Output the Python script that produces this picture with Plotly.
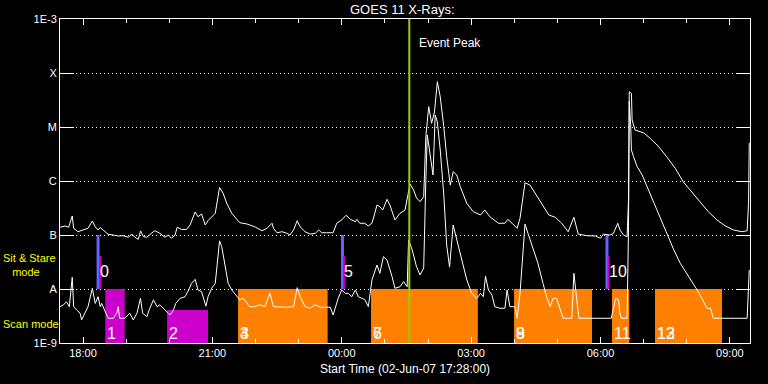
import plotly.graph_objects as go

# ---------------- data ----------------
long_time = ["17:28","17:35","17:40","17:45","17:47","17:53","18:00","18:07","18:13","18:17","18:21","18:24",
             "18:28","18:35","18:42","18:49","18:56","19:03","19:08","19:12","19:17","19:20","19:24","19:29",
             "19:36","19:40","19:47","19:54","19:59","20:03","20:08","20:11","20:17","20:24","20:29","20:36",
             "20:40","20:45","20:50","20:54","21:04","21:10","21:15","21:20","21:27","21:34","21:38","21:48",
             "21:59","22:09","22:16","22:23","22:25","22:30","22:37","22:44","22:48","22:53","22:58","23:02",
             "23:09","23:16","23:23","23:28","23:32","23:39","23:48","23:53","00:00","00:06","00:12","00:19",
             "00:21","00:25","00:32","00:37","00:42","00:46","00:49","00:53","00:57","01:03","01:07","01:14",
             "01:21","01:28","01:31","01:35","01:40","01:44","01:49","01:54","01:57","02:01","02:05","02:09",
             "02:13","02:17","02:22","02:26","02:31","02:35","02:40","02:45","02:54","03:03","03:13","03:19",
             "03:26","03:38","03:47","03:51","03:57","04:04","04:08","04:15","04:22","04:29","04:38","04:48",
             "04:57","05:06","05:15","05:23","05:29","05:41","05:53","06:00","06:04","06:13","06:18","06:24",
             "06:27","06:32","06:37","06:39","06:40","06:43","06:44","06:48","06:55","07:00","07:09","07:21",
             "07:32","07:44","07:55","08:07","08:19","08:30","08:42","08:53","09:05","09:17","09:24","09:26",
             "09:27"]
long_flux = [1.39e-7,1.47e-7,1.39e-7,2.25e-7,1.33e-7,1.15e-7,1.24e-7,1.33e-7,1.82e-7,1.42e-7,1.24e-7,1.37e-7,
             1.24e-7,1.03e-7,1.00e-7,9.6e-8,9.7e-8,9.1e-8,1.04e-7,9.1e-8,8.3e-8,1.19e-7,9.3e-8,9.1e-8,
             1.10e-7,1.20e-7,1.07e-7,9.1e-8,1.00e-7,8.7e-8,9.9e-8,1.39e-7,1.27e-7,1.27e-7,1.53e-7,2.67e-7,
             2.18e-7,2.45e-7,1.53e-7,1.84e-7,2.52e-7,7.6e-7,5.9e-7,3.86e-7,2.52e-7,1.90e-7,1.69e-7,1.60e-7,
             1.42e-7,1.20e-7,1.33e-7,1.65e-7,1.33e-7,1.10e-7,1.15e-7,1.07e-7,1.00e-7,1.24e-7,1.84e-7,1.42e-7,
             1.15e-7,1.04e-7,1.07e-7,1.24e-7,1.10e-7,1.10e-7,1.10e-7,1.65e-7,1.90e-7,2.32e-7,1.95e-7,1.76e-7,
             1.95e-7,1.65e-7,1.65e-7,1.47e-7,1.65e-7,2.52e-7,3.59e-7,3.34e-7,2.90e-7,4.58e-7,3.59e-7,1.90e-7,
             2.52e-7,2.90e-7,4.45e-7,8.8e-7,6.8e-7,4.84e-7,4.14e-7,5.12e-7,6.6e-6,2.38e-5,1.17e-5,1.90e-5,
             6.9e-5,3.64e-5,1.01e-5,2.82e-6,8.4e-7,1.49e-6,1.29e-6,7.8e-7,3.86e-7,2.70e-7,2.35e-7,2.90e-7,
             2.18e-7,1.65e-7,1.65e-7,1.95e-7,1.65e-7,1.33e-7,2.04e-7,9.3e-7,8.4e-7,5.9e-7,3.86e-7,2.35e-7,
             2.13e-7,1.65e-7,1.15e-7,2.13e-7,1.04e-7,9.7e-8,9.6e-8,8.7e-8,1.04e-7,1.00e-7,1.07e-7,1.65e-7,
             1.24e-7,1.00e-7,9.3e-8,4.45e-7,4.5e-5,4.2e-5,1.35e-5,8.8e-6,8.2e-6,7.8e-6,6.2e-6,4.3e-6,
             2.82e-6,1.72e-6,9.7e-7,6.3e-7,4.14e-7,2.70e-7,1.90e-7,1.49e-7,1.24e-7,1.15e-7,1.20e-7,3.86e-7,
             5.1e-6]

short_time = ["17:28","17:33","17:37","17:41","17:45","17:47","17:51","17:56","17:58","18:03","18:07","18:13",
              "18:17","18:21","18:24","18:26","18:28","18:33","18:35","18:42","18:47","18:49","18:51","18:58",
              "19:05","19:10","19:15","19:20","19:23","19:29","19:32","19:38","19:43","19:47","19:52","19:56",
              "20:01","20:06","20:09","20:15","20:22","20:27","20:31","20:36","20:40","20:45","20:51","20:54",
              "20:59","21:04","21:10","21:13","21:18","21:22","21:27","21:34","21:38","21:43","21:48","21:52",
              "21:59","22:06","22:13","22:20","22:25","22:34","22:44","22:53","22:58","23:02","23:09","23:16",
              "23:23","23:30","23:39","23:44","23:48","23:51","23:55","00:00","00:05","00:09","00:14","00:19",
              "00:23","00:28","00:32","00:37","00:42","00:49","00:53","00:58","01:03","01:10","01:14","01:21",
              "01:26","01:31","01:33","01:38","01:44","01:49","01:54","01:57","01:59","02:02","02:07","02:10",
              "02:13","02:17","02:22","02:26","02:30","02:35","02:40","02:47","02:54","03:01","03:08","03:13",
              "03:17","03:20","03:24","03:29","03:33","03:40","03:47","03:50","03:54","04:01","04:04","04:08",
              "04:12","04:15","04:19","04:26","04:33","04:40","04:45","04:50","04:54","04:59","05:03","05:08",
              "05:20","05:23","05:27","05:30","06:15","06:19","06:21","06:25","06:27","06:29","06:37","06:39",
              "06:40","06:42","06:43","06:46","06:51","06:58","07:05","07:14","07:23","07:32","07:42","07:51",
              "08:00","08:09","08:16","08:21","08:28","08:33","08:37","09:24","09:26","09:27"]
short_flux = [4.7e-9,5.1e-9,5.8e-9,4.7e-9,1.65e-8,4.7e-9,4.1e-9,3.55e-9,2.67e-9,3.55e-9,4.7e-9,1.03e-8,
              5.4e-9,7.2e-9,4.7e-9,5.4e-9,4.7e-9,3.55e-9,2.87e-9,2.87e-9,3.55e-9,4.7e-9,2.87e-9,2.87e-9,
              3.55e-9,2.67e-9,3.55e-9,6.7e-9,3.55e-9,3.07e-9,4.1e-9,6.3e-9,4.7e-9,5.1e-9,4.4e-9,3.8e-9,
              3.3e-9,4.1e-9,5.4e-9,6.7e-9,7.2e-9,9.6e-9,1.27e-8,1.51e-8,9.6e-9,8.9e-9,4.8e-9,7.2e-9,
              1.03e-8,1.27e-8,7.8e-8,6.1e-8,2.59e-8,1.27e-8,9.6e-9,7.2e-9,6.3e-9,6.7e-9,5.4e-9,4.7e-9,
              4.7e-9,5.1e-9,4.7e-9,8.3e-9,4.7e-9,4.6e-9,4.6e-9,4.7e-9,1.06e-8,7.2e-9,4.7e-9,4.4e-9,
              5.1e-9,4.6e-9,4.6e-9,4.6e-9,3.3e-9,4.4e-9,6.7e-9,9.6e-9,8.3e-9,8.3e-9,7.2e-9,9.6e-9,
              7.2e-9,6.7e-9,6.4e-9,4.7e-9,1.47e-8,2.78e-8,1.95e-8,3.97e-8,3.44e-8,1.69e-8,1.03e-8,1.10e-8,
              1.37e-8,1.10e-8,8.1e-8,5.3e-8,2.59e-8,1.82e-8,2.45e-8,1.04e-6,7.1e-6,3.75e-6,1.29e-6,1.67e-5,
              1.24e-5,3.75e-6,5.5e-7,6.5e-8,2.55e-8,1.53e-7,8.1e-8,3.44e-8,1.47e-8,8.3e-9,6.7e-9,8.3e-9,
              7.2e-9,1.74e-8,9.6e-9,7.7e-9,4.7e-9,4.4e-9,4.4e-9,9.6e-9,4.7e-9,4.7e-9,2.87e-9,8.3e-9,
              4.9e-8,1.60e-7,1.08e-7,5.7e-8,2.99e-8,1.27e-8,7.2e-9,4.7e-9,6.7e-9,6.7e-9,4.7e-9,2.87e-9,
              2.87e-9,1.95e-8,6.3e-9,2.87e-9,2.87e-9,5.1e-9,6.7e-9,6.3e-9,3.55e-9,2.87e-9,2.87e-9,1.42e-7,
              3.0e-5,1.09e-5,3.75e-6,2.82e-6,1.84e-6,1.29e-6,7.8e-7,3.86e-7,2.04e-7,1.07e-7,5.3e-8,2.99e-8,
              1.95e-8,1.27e-8,8.9e-9,6.7e-9,4.4e-9,4.4e-9,2.87e-9,2.87e-9,9.6e-9,2.25e-8]

# scan-mode observations
scan_label = ["1", "2", "3", "4", "6", "7", "8", "9", "11", "12", "13"]
scan_start = ["18:31", "19:57", "21:36", "21:36", "00:41", "00:41", "04:00", "04:00", "06:16", "07:16", "07:16"]
scan_end = ["18:58", "20:54", "23:40", "23:40", "03:09", "03:09", "05:48", "05:48", "06:40", "08:49", "08:49"]
scan_top = [1e-8, 4.1e-9, 1e-8, 1e-8, 1e-8, 1e-8, 1e-8, 1e-8, 1e-8, 1e-8, 1e-8]
scan_kind = ["m", "m", "o", "o", "o", "o", "o", "o", "o", "o", "o"]

# sit & stare observations
ss_label = ["0", "5", "10"]
ss_time_a = ["18:21", "00:01", "06:09"]
ss_time_b = ["18:24", "00:03", "06:11"]
ss_a_range = [1e-7, 1e-8]
ss_b_range = [4.1e-8, 1e-8]

event_peak = "01:34"
y_tickvals = [1e-9, 1e-8, 1e-7, 1e-6, 1e-5, 1e-4, 1e-3]
y_ticktext = ["1E-9", "A", "B", "C", "M", "X", "1E-3"]

# ---------------- helpers ----------------
def to_dt(hhmm):
    h, m = map(int, hhmm.split(":"))
    day = 2 if h >= 17 else 3
    return f"2007-06-{day:02d} {h:02d}:{m:02d}"

FONT = "Liberation Sans"
WHITE = "#ffffff"
YELLOW = "#ffff00"
MAGENTA = "#cc00cc"
ORANGE = "#ff8000"
BLUE = "#6464ff"
GREEN = "#9ccc00"
colors = {"m": MAGENTA, "o": ORANGE}

fig = go.Figure()

# scan bars
for lab, s, e, top, k in zip(scan_label, scan_start, scan_end, scan_top, scan_kind):
    xs = [to_dt(s), to_dt(s), to_dt(e), to_dt(e), to_dt(s)]
    ys = [1e-9, top, top, 1e-9, 1e-9]
    fig.add_trace(go.Scatter(x=xs, y=ys, mode="lines", fill="toself",
                             fillcolor=colors[k], line=dict(width=0, color=colors[k]),
                             hoverinfo="skip"))

# sit & stare bars
for ta, tb in zip(ss_time_a, ss_time_b):
    fig.add_trace(go.Scatter(x=[to_dt(ta)] * 2, y=ss_a_range, mode="lines",
                             line=dict(color=BLUE, width=3), hoverinfo="skip"))
    fig.add_trace(go.Scatter(x=[to_dt(tb)] * 2, y=ss_b_range, mode="lines",
                             line=dict(color=MAGENTA, width=2), hoverinfo="skip"))

# GOES curves
fig.add_trace(go.Scatter(x=[to_dt(t) for t in long_time], y=long_flux, mode="lines",
                         line=dict(color=WHITE, width=1), hoverinfo="skip"))
fig.add_trace(go.Scatter(x=[to_dt(t) for t in short_time], y=short_flux, mode="lines",
                         line=dict(color=WHITE, width=1), hoverinfo="skip"))

# event peak line
fig.add_trace(go.Scatter(x=[to_dt(event_peak)] * 2, y=[1e-9, 1e-3], mode="lines",
                         line=dict(color=GREEN, width=2), hoverinfo="skip"))

ann = []
for lab, s in zip(scan_label, scan_start):
    ann.append(dict(x=to_dt(s), y=-8.815, xref="x", yref="y", text=lab, showarrow=False,
                    xanchor="left", yanchor="middle",
                    font=dict(family=FONT, size=16, color=WHITE)))
for lab, t in zip(ss_label, ss_time_a):
    ann.append(dict(x=to_dt(t), y=-7.685, xref="x", yref="y", text=lab, showarrow=False,
                    xanchor="left", yanchor="middle",
                    font=dict(family=FONT, size=16, color=WHITE)))
ann.append(dict(x=to_dt(event_peak), y=-3.439, xref="x", yref="y", text="Event Peak",
                showarrow=False, xanchor="left", yanchor="middle", xshift=8,
                font=dict(family=FONT, size=12, color=WHITE)))
ann.append(dict(x=-60 / 690, y=-7.55, xref="paper", yref="y",
                text="Sit & Stare<br>&nbsp;&nbsp;&nbsp;mode", align="left",
                showarrow=False, xanchor="left", yanchor="middle", xshift=1,
                font=dict(family=FONT, size=11, color=YELLOW)))
ann.append(dict(x=-60 / 690, y=-8.648, xref="paper", yref="y", text="Scan mode",
                showarrow=False, xanchor="left", yanchor="middle", xshift=1,
                font=dict(family=FONT, size=11, color=YELLOW)))
ann.append(dict(x=0.5, y=-26 / 324, xref="paper", yref="paper",
                text="Start Time (02-Jun-07 17:28:00)", showarrow=False,
                xanchor="center", yanchor="middle",
                font=dict(family=FONT, size=12, color=WHITE)))
ann.append(dict(x=(402 - 60) / 690, y=1 + 10 / 324, xref="paper", yref="paper",
                text="GOES 11 X-Rays:", showarrow=False, xanchor="center", yanchor="middle",
                font=dict(family=FONT, size=13, color=WHITE)))

fig.update_layout(
    width=768, height=384,
    margin=dict(l=60, r=18, t=19, b=41),
    paper_bgcolor="black", plot_bgcolor="black",
    showlegend=False,
    annotations=ann,
    font=dict(family=FONT, color=WHITE),
    xaxis=dict(
        type="date",
        range=[to_dt("17:28"), to_dt("09:28")],
        showline=True, linecolor=WHITE, linewidth=1, mirror="allticks",
        ticks="inside", ticklen=6, tickcolor=WHITE, tickwidth=1,
        tick0="2007-06-02 18:00", dtick=3 * 3600000, tickformat="%H:%M",
        tickfont=dict(family=FONT, size=11, color=WHITE),
        showgrid=False, zeroline=False,
        minor=dict(dtick=3600000, tick0="2007-06-02 18:00", ticks="inside", ticklen=4,
                   tickcolor=WHITE, showgrid=False),
    ),
    yaxis=dict(
        type="log", range=[-9, -3],
        tickvals=y_tickvals, ticktext=y_ticktext,
        showline=True, linecolor=WHITE, linewidth=1, mirror="allticks",
        ticks="inside", ticklen=14, tickcolor=WHITE, tickwidth=1,
        tickfont=dict(family=FONT, size=11, color=WHITE),
        showgrid=True, gridcolor=WHITE, gridwidth=1, griddash="1px,3px",
        zeroline=False,
    ),
)

fig.write_html("out.html", config={"displayModeBar": False},
               post_script="document.body.style.margin='0';")
